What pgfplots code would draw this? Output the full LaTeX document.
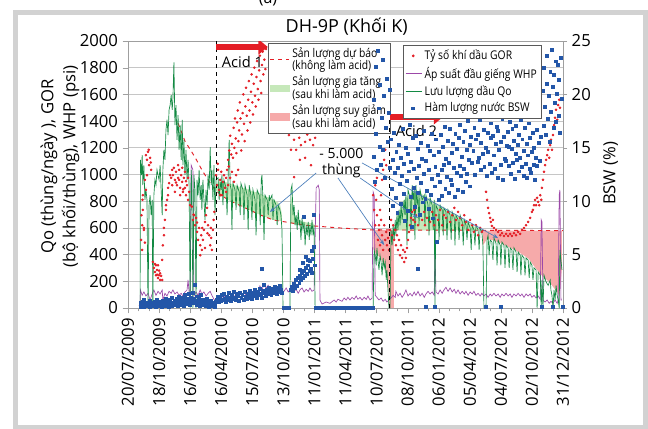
\documentclass[border=0pt]{standalone}
\usepackage{fontspec}
\setmainfont{Open Sans}
\newfontfamily\legfont[FakeStretch=0.86]{Open Sans}
\usepackage{pgfplots}
\pgfplotsset{compat=1.18}
\usetikzlibrary{arrows.meta}

\definecolor{gorred}{HTML}{E41E26}
\definecolor{qogreen}{HTML}{138A43}
\definecolor{whppurple}{HTML}{9C48A8}
\definecolor{bswblue}{HTML}{2356A8}
\definecolor{incgreen}{HTML}{C6E8BA}
\definecolor{decpink}{HTML}{F6AAAA}
\definecolor{annblue}{HTML}{4A7EBB}
\definecolor{framegray}{HTML}{D2D2D2}

\begin{document}
\begin{tikzpicture}
\useasboundingbox (-96pt,-90pt) rectangle (390pt,231pt);
\fill[white] (-96pt,-90pt) rectangle (390pt,231pt);
\draw[line width=3.75pt, framegray] (-84.4pt,-89.25pt) rectangle (388.1pt,221.6pt);
\node[font=\fontsize{12}{14}\selectfont] at (105pt,232pt) {(a)};
\node[font=\fontsize{13.5}{16}\selectfont] at (164pt,211pt) {DH-9P (Khối K)};

\begin{axis}[
  at={(0pt,0pt)}, anchor=south west,
  width=326.25pt, height=200.25pt, scale only axis,
  xmin=0, xmax=1260, ymin=0, ymax=2000,
  xtick={0,90,...,1260},
  xticklabels={20/07/2009,18/10/2009,16/01/2010,16/04/2010,15/07/2010,13/10/2010,11/01/2011,11/04/2011,10/07/2011,08/10/2011,06/01/2012,05/04/2012,04/07/2012,02/10/2012,31/12/2012},
  x tick label style={rotate=90, anchor=east},
  minor x tick num=2,
  ytick={0,200,...,2000},
  ymajorgrids, grid style={gray!45, line width=0.6pt},
  axis line style={gray!75}, tick style={gray!75},
  tick pos=left, tick align=outside,
  major tick length=4pt, minor tick length=2.5pt,
  ticklabel style={font=\fontsize{12.5}{14}\selectfont},
  /pgf/number format/assume math mode=true,
  /pgf/number format/1000 sep={},
  legend style={at={(0.322,0.993)}, anchor=north west, draw=gray!70!black, fill=white, line width=0.5pt,
    font=\legfont\fontsize{9}{9.6}\selectfont, inner sep=1pt, row sep=-1pt},
  legend cell align=left,
  legend style={cells={align=left}},
]
% increase / decrease areas
\addplot[fill=incgreen, draw=none, forget plot] coordinates {
(255,930)(265,950)(280,945)(300,930)(320,910)(340,895)(360,875)(380,860)(400,835)(420,815)(440,780)(446,700)
(446,650)(420,660)(385,695)(339,750)(290,810)(270,845)(255,880)} --cycle;
\addplot[fill=incgreen, draw=none, forget plot] coordinates {
(472,850)(478,720)(490,660)(510,645)(530,635)(540,630)(540,605)(510,620)(472,632)} --cycle;
\addplot[fill=incgreen, draw=none, forget plot] coordinates {
(774,585)(780,690)(790,760)(800,810)(815,850)(830,870)(845,860)(860,840)(880,805)(900,775)(920,745)(940,715)(960,685)(980,650)(1000,615)(1015,595)(1025,582)(774,582)} --cycle;
\addplot[fill=decpink, draw=none, forget plot] coordinates {
(711,585)(711,440)(720,400)(730,380)(740,330)(750,250)(755,120)(756,0)(770,0)(770,585)} --cycle;
\addplot[fill=decpink, draw=none, forget plot] coordinates {
(1028,580)(1028,470)(1031,480)(1040,520)(1060,505)(1080,485)(1100,460)(1120,435)(1140,405)(1160,370)(1180,300)(1200,240)(1220,195)(1240,130)(1250,90)(1257,300)(1257,580)} --cycle;

% WHP
\addplot[whppurple, line width=0.5pt, forget plot] coordinates {
(35,0)(36,135)(41,95)(46,120)(52,90)(58,110)(64,60)(70,105)(75,135)(81,95)(87,125)(93,105)(99,135)(101,60)(107,110)(113,90)(119,125)(125,110)(130,135)(136,105)(142,120)(148,95)(154,110)(159,90)(165,120)(171,135)(174,210)(177,120)(180,90)(183,1070)(188,1035)(191,90)(197,120)(203,95)(209,135)(214,105)(220,120)(226,90)(232,110)(238,125)(243,95)(249,65)(255,45)(261,75)(267,90)(272,65)(278,90)(284,75)(290,95)(296,80)(301,105)(307,80)(313,105)(319,90)(325,110)(330,90)(336,120)(342,95)(348,120)(353,105)(359,125)(365,105)(371,135)(377,110)(382,165)(388,135)(394,180)(400,150)(406,170)(411,135)(417,155)(423,125)(429,140)(435,120)(440,135)(446,105)(452,125)(458,150)(464,120)(469,135)(475,155)(481,125)(487,140)(493,110)(498,135)(504,150)(510,120)(516,140)(522,125)(527,150)(533,125)(539,135)(545,900)(551,920)(554,885)(556,60)(562,30)(574,45)(585,35)(597,60)(603,45)(608,65)(620,50)(626,75)(632,60)(637,80)(643,60)(649,80)(655,65)(661,90)(666,65)(672,80)(678,60)(684,80)(690,65)(695,90)(701,60)(707,75)(710,870)(713,845)(716,95)(721,80)(727,60)(733,75)(739,50)(745,65)(750,45)(756,60)(762,75)(768,95)(774,80)(776,125)(782,90)(788,110)(794,80)(800,105)(805,135)(811,90)(817,110)(823,90)(829,120)(834,95)(840,125)(846,90)(852,110)(858,80)(863,105)(869,125)(875,105)(881,120)(887,95)(889,450)(892,120)(898,105)(904,135)(910,110)(915,135)(921,155)(927,125)(933,150)(939,120)(945,140)(950,110)(956,135)(962,105)(968,125)(974,105)(979,125)(985,95)(991,120)(997,105)(1002,125)(1008,95)(1014,110)(1020,90)(1025,110)(1031,90)(1037,105)(1043,80)(1049,105)(1054,90)(1060,110)(1066,90)(1072,105)(1078,80)(1083,105)(1089,90)(1095,110)(1101,90)(1107,105)(1112,80)(1118,105)(1124,90)(1130,110)(1136,90)(1141,105)(1147,80)(1153,105)(1159,90)(1165,105)(1170,80)(1176,95)(1182,75)(1188,90)(1194,65)(1197,660)(1199,645)(1202,60)(1208,45)(1214,60)(1220,35)(1225,50)(1231,35)(1237,60)(1243,35)(1246,60)(1249,845)(1251,885)(1254,60)(1257,60)};

% forecast
\addplot[gorred, dashed, line width=0.7pt, forget plot] coordinates {
(145,1385)(165,1250)(194,1130)(215,1030)(232,960)(252,885)(270,845)(290,810)(339,750)(385,695)(420,660)(513,620)(611,600)(707,585)(1260,580)};

% Qo
\addplot[qogreen, line width=0.5pt, forget plot] coordinates {
(35,0)(36,1110)(39,995)(41,1145)(43,920)(46,1070)(49,810)(52,885)(55,810)(58,0)(61,770)(64,845)(67,695)(70,810)(72,0)(75,845)(78,960)(81,920)(84,1035)(87,995)(90,960)(93,1070)(96,885)(99,695)(101,1035)(104,1185)(107,1110)(110,1335)(113,1410)(116,1295)(119,1485)(122,1520)(125,1595)(128,1485)(130,1560)(133,1840)(136,1370)(139,1520)(142,1260)(145,1445)(148,1185)(151,1370)(154,1110)(157,1410)(159,1070)(162,1260)(165,995)(168,1185)(171,960)(174,1110)(177,920)(180,0)(183,1035)(185,920)(188,0)(191,995)(194,885)(197,0)(200,960)(203,845)(206,1035)(209,810)(212,920)(214,735)(217,960)(220,810)(223,660)(226,885)(229,770)(232,995)(235,885)(238,1205)(241,920)(243,1035)(246,810)(249,1070)(252,695)(255,960)
(261,975)(264,810)(267,945)(270,885)(272,995)(275,770)(278,960)(284,900)(287,695)(290,975)(293,1260)(296,920)(299,885)(301,585)(304,935)(310,885)(313,735)(316,920)(322,870)(325,695)(327,935)(333,885)(336,660)(339,920)(345,845)(348,585)(351,920)(356,845)(359,660)(362,885)(368,810)(371,545)(374,885)(380,845)(383,620)(386,960)(388,995)(391,810)(394,510)(397,845)(403,810)(406,695)(409,845)(411,810)(417,845)(420,660)(423,810)(429,770)(432,620)(435,770)(440,735)(443,695)(446,585)(449,0)(469,0)(472,885)(475,920)(478,695)(481,770)(484,620)(487,695)(490,585)(493,735)(496,620)(498,660)(501,510)(504,675)(507,585)(510,645)(513,470)(516,620)(519,545)(522,645)(525,510)(527,620)(530,545)(533,660)(536,545)(539,620)(542,0)(710,0)(713,435)(716,395)(719,320)(721,450)(724,360)(727,285)(730,395)(733,345)(736,245)(739,375)(742,300)(745,345)(748,210)(750,285)(753,135)(756,0)(759,0)(762,585)(765,470)(768,620)(771,510)(774,660)(776,545)(779,695)(782,585)(785,735)(788,620)(791,770)(794,660)(800,810)(802,695)(805,845)(808,470)(811,885)(817,825)(820,585)(823,920)(826,810)(829,885)(831,510)(834,920)(837,770)(840,845)(843,620)(846,885)(852,810)(858,845)(860,620)(863,845)(869,770)(872,545)(875,825)(881,770)(884,585)(887,810)(889,0)(892,770)(898,735)(901,510)(904,770)(910,735)(913,545)(915,750)(921,720)(924,510)(927,735)(933,695)(936,510)(939,720)(945,675)(947,470)(950,695)(956,660)(959,510)(962,695)(968,645)(971,470)(974,660)(979,620)(982,510)(985,645)(991,600)(994,435)(997,620)(1002,585)(1005,470)(1008,620)(1014,585)(1017,435)(1020,600)(1025,570)(1028,470)(1031,0)(1037,0)(1040,510)(1043,545)(1046,395)(1049,510)(1054,495)(1057,360)(1060,525)(1066,485)(1069,320)(1072,510)(1078,470)(1080,320)(1083,495)(1089,470)(1092,300)(1095,470)(1101,450)(1104,300)(1107,450)(1112,435)(1115,285)(1118,450)(1124,420)(1127,270)(1130,420)(1136,395)(1138,245)(1141,395)(1147,375)(1150,245)(1153,375)(1159,360)(1162,225)(1165,345)(1170,320)(1173,210)(1176,300)(1182,285)(1185,0)(1188,270)(1194,245)(1197,0)(1199,210)(1202,0)(1205,245)(1211,195)(1217,170)(1223,210)(1225,135)(1228,95)(1231,0)(1234,135)(1237,60)(1240,170)(1243,95)(1246,60)(1249,0)(1251,435)(1257,285)};

% GOR
\addplot[only marks, mark=*, mark size=0.75pt, gorred, forget plot] coordinates {
(35,20)(38,510)(39,695)(41,620)(42,810)(43,735)(43,845)(46,585)(41,435)(46,600)(49,490)
(52,1145)(55,1110)(58,1170)(61,1070)(64,1125)(67,1035)(55,995)(49,960)(52,885)(60,1185)(66,1090)
(72,345)(75,300)(78,270)(81,245)(84,285)(87,225)(90,245)(93,210)(96,240)(99,210)(87,320)(81,320)(78,330)(90,280)(84,250)(93,260)
(99,360)(101,470)(104,545)(104,600)(107,660)(110,735)(110,770)(113,810)(116,845)(116,900)(119,935)(122,995)
(125,975)(128,1035)(130,995)(133,1050)(136,960)(139,1020)(142,920)(145,975)(148,1035)(151,900)(154,995)(157,945)(159,870)(162,975)(165,900)(168,845)(171,920)(174,810)(177,870)(180,770)(128,920)(136,870)(145,1070)(157,1050)(165,1020)(174,975)(151,845)(139,940)(148,960)(160,890)(168,950)
(185,760)(190,700)(188,660)(191,695)(194,620)(197,675)(200,570)(203,510)(206,600)(209,470)(212,545)(214,435)(217,510)(220,585)(223,645)(226,695)(229,750)(232,620)(235,545)(238,470)(241,525)(243,435)(246,585)(209,395)(223,450)(200,640)(215,600)(230,560)(240,600)(248,660)(250,720)
(255,995)(258,920)(261,1035)(264,885)(267,960)(270,1020)(272,845)(275,945)(278,995)(281,900)(284,975)(287,1035)(290,920)(296,975)(301,1020)(307,945)(313,995)(319,1035)(267,845)(284,870)(260,1080)(292,1060)
(290,1110)(293,1180)(296,1290)(299,1150)(301,1230)(304,1125)(306,1350)(308,1200)(310,1420)(312,1270)(314,1160)(316,1390)(318,1480)(320,1250)(322,1330)(324,1540)(326,1420)(328,1180)(330,1300)(332,1460)(334,1600)(336,1380)(338,1250)(340,1510)(342,1650)(344,1440)(346,1330)(348,1560)(350,1700)(352,1480)(354,1390)(356,1620)(358,1750)(360,1540)(362,1450)(364,1680)(366,1800)(368,1590)(370,1510)(372,1730)(374,1850)(376,1640)(378,1560)(380,1780)(382,1890)(384,1700)(386,1610)(388,1820)(390,1920)(392,1750)(395,1860)(398,1790)(400,1940)
(466,1295)(469,1370)(472,1185)(475,1425)(478,1335)(481,1260)(484,1395)(487,1185)(490,1350)(493,1470)(496,1275)(498,1425)(501,1220)(504,1370)(507,1320)(510,1445)(513,1245)(516,1410)(519,1300)(522,1485)(525,1350)(527,1260)(530,1425)(533,1335)(536,1220)(539,1370)(542,1275)(481,980)(498,1110)(513,1125)(530,1070)
(710,845)(713,735)(716,620)(719,810)(721,695)(724,510)(727,585)(730,470)(733,660)(736,545)(739,435)(742,620)(745,510)(748,570)(750,470)(753,525)(756,435)(716,920)(721,975)
(727,620)(730,735)(733,845)(736,960)(739,1035)(742,1110)(745,1185)(748,1070)
(759,585)(762,660)(765,545)(768,620)(771,510)(774,585)(776,470)(779,545)(782,435)(785,510)(788,395)(791,470)(794,375)(797,435)(800,345)(802,420)(805,375)(808,450)(811,510)(814,570)(817,620)(820,675)(823,720)(826,660)(829,735)(831,645)(834,695)(840,620)(846,695)(852,660)(858,720)(860,620)(866,675)(875,645)(881,720)(887,620)(892,695)(898,660)(904,735)(910,620)(915,695)(921,675)(927,720)(933,645)(939,695)(945,750)(950,660)(956,720)(962,675)(968,620)(974,695)(979,645)(985,585)(991,660)(997,620)(1002,570)(1008,620)(1014,545)(1020,600)(1025,570)
(1037,870)(1040,810)(1043,750)(1046,710)(1049,675)(1051,645)(1054,615)(1057,660)(1060,600)(1066,585)(1072,570)(1078,545)(1083,560)(1089,540)(1095,555)(1101,540)(1107,555)(1112,540)(1118,560)(1124,545)(1130,570)(1136,555)(1141,585)(1147,600)(1153,620)(1159,645)(1165,675)(1170,720)(1173,735)(1176,770)(1179,810)(1182,770)(1185,825)(1188,795)(1191,770)(1194,845)(1197,810)(1199,900)(1202,960)(1205,1020)(1208,1070)(1211,1110)(1214,1145)(1217,1185)(1220,1125)(1223,1220)(1225,1260)(1228,1185)(1231,1295)(1234,1370)(1237,1425)(1240,1485)(1243,1410)(1246,1520)(1249,1560)(1251,1500)};

% acid 1 marker
\draw[black, dashed, line width=0.6pt] (axis cs:255,0) -- (axis cs:255,2000);
\draw[gorred, line width=4.5pt, -{Triangle[length=7pt,width=11pt]}] (axis cs:255,1955) -- (axis cs:405,1955);
\node[anchor=west, font=\fontsize{11}{13}\selectfont] at (axis cs:258,1840) {Acid 1};

\addlegendimage{legend image code/.code={\draw[gorred, dashed, line width=0.7pt] (0cm,0cm) -- (0.5cm,0cm);}}
\addlegendentry{Sản lượng dự báo\\(không làm acid)}
\addlegendimage{legend image code/.code={\fill[incgreen] (0cm,-0.08cm) rectangle (0.5cm,0.08cm);}}
\addlegendentry{Sản lượng gia tăng\\(sau khi làm acid)}
\addlegendimage{legend image code/.code={\fill[decpink] (0cm,-0.08cm) rectangle (0.5cm,0.08cm);}}
\addlegendentry{Sản lượng suy giảm\\(sau khi làm acid)}
\end{axis}

\begin{axis}[
  at={(0pt,0pt)}, anchor=south west,
  width=326.25pt, height=200.25pt, scale only axis,
  xmin=0, xmax=1260, ymin=0, ymax=25,
  axis x line=none, axis y line*=right,
  ytick={0,5,...,25},
  axis line style={gray!75}, tick style={gray!75},
  tick align=outside, major tick length=3pt,
  ticklabel style={font=\fontsize{12.5}{14}\selectfont},
  /pgf/number format/assume math mode=true,
  legend style={at={(0.632,0.985)}, anchor=north west, draw=gray!70!black, fill=white, line width=0.5pt,
    font=\legfont\fontsize{9}{10.5}\selectfont, inner sep=1.5pt, row sep=0pt},
  legend cell align=left,
]
\addlegendimage{legend image code/.code={\fill[gorred] (0.2cm,0cm) circle (0.75pt);}}
\addlegendentry{Tỷ số khí dầu GOR}
\addlegendimage{legend image code/.code={\draw[whppurple, line width=0.6pt] (0cm,0cm) -- (0.42cm,0cm);}}
\addlegendentry{Áp suất đầu giếng WHP}
\addlegendimage{legend image code/.code={\draw[qogreen, line width=0.6pt] (0cm,0cm) -- (0.42cm,0cm);}}
\addlegendentry{Lưu lượng dầu Qo}
\addplot[only marks, mark=square*, mark size=1.1pt, bswblue, legend image code/.code={\fill[bswblue] (0.16cm,-1.1pt) rectangle (0.16cm+2.2pt,1.1pt);}] coordinates {
(36,0.3)(38,0.5)(40,0.2)(42,0.6)(44,0.3)(47,0.8)(50,0.4)(53,0.2)(56,0.5)(59,0.3)(62,0.7)(65,0.4)(68,0.2)(71,0.5)(74,0.3)(77,0.6)(80,0.4)(83,0.8)(86,0.3)(89,0.5)(92,0.2)(95,0.6)(98,0.4)(101,0.7)(104,0.3)(107,0.5)(110,0.9)(113,0.4)(116,0.6)(119,0.3)(122,0.8)(125,0.5)(128,1.0)(131,0.4)(134,0.7)(137,0.5)(140,0.9)(143,0.6)(146,1.1)(149,0.4)(152,0.8)(155,0.6)(158,1.0)(161,0.5)(164,1.2)(167,0.7)(170,0.9)(173,0.5)(176,1.3)(179,0.8)(182,1.0)(185,0.6)(188,1.4)(191,0.9)(193,2.2)(196,0.7)(199,1.1)(202,0.5)(205,0.9)(208,0.6)(211,1.2)(214,0.4)(217,0.8)(220,0.3)(223,0.7)(226,0.5)(229,0.9)(232,0.3)(235,0.6)(238,0.4)(241,0.7)(244,0.2)(247,0.5)(250,0.3)(253,0.6)
(37,0.1)(45,0.1)(54,0.3)(63,0.1)(72,0.2)(81,0.1)(90,0.3)(99,0.1)(108,0.2)(117,0.1)(126,0.2)(135,0.3)(144,0.2)(153,0.3)(162,0.2)(171,0.4)(180,0.3)(189,0.5)(198,0.3)(207,0.2)(216,0.4)(225,0.2)(234,0.1)(243,0.3)(252,0.1)
(256,0.8)(259,1.1)(262,0.6)(265,1.0)(268,0.7)(271,1.2)(274,0.8)(277,1.3)(280,0.9)(283,0.6)(286,1.1)(289,0.8)(292,1.4)(295,1.0)(298,0.7)(301,1.2)(304,0.9)(307,1.5)(310,1.0)(313,0.8)(316,1.3)(319,1.1)(322,0.7)(325,1.4)(328,1.0)(331,1.2)(334,0.8)(337,1.5)(340,1.1)(343,0.9)(346,1.3)(349,1.0)(352,1.6)(355,1.2)(358,0.9)(361,1.4)(364,1.1)(367,1.7)(370,1.3)(373,1.0)(376,1.5)(379,1.2)(382,1.8)(385,1.3)(388,1.0)(388,3.7)(391,1.6)(394,2.2)(397,1.4)(400,1.1)(403,1.7)(406,1.3)(409,1.9)(412,1.5)(415,1.2)(418,1.8)(421,1.4)(424,2.0)(427,1.6)(430,1.3)(433,1.9)(436,1.5)(439,2.1)(442,1.7)(445,1.4)
(450,0.05)(454,0.05)(458,0.05)(462,0.05)(466,0.05)
(472,1.7)(475,2.0)(478,1.6)(481,2.3)(484,1.9)(487,2.6)(490,2.1)(493,2.8)(496,2.4)(498,3.0)(501,2.6)(504,3.3)(507,2.8)(510,8.5)(510,3.5)(513,3.0)(516,3.8)(519,3.2)(522,4.0)(525,3.5)(527,4.4)(530,3.7)(533,5.4)(536,4.6)(539,8.7)(539,5.7)(541,4.0)(533,3.3)(520,4.5)(515,4.8)(505,4.2)(498,3.6)
(545,0.05)(549,0.05)(553,0.05)(557,0.05)(561,0.05)(565,0.05)(569,0.05)(573,0.05)(577,0.05)(581,0.05)(585,0.05)(589,0.05)(593,0.05)(597,0.05)(601,0.05)(605,0.05)(609,0.05)(613,0.05)(617,0.05)(621,0.05)(625,0.05)(629,0.05)(633,0.05)(637,0.05)(641,0.05)(645,0.05)(649,0.05)(653,0.05)(657,0.05)(661,0.05)(665,0.05)(669,0.05)(673,0.05)(677,0.05)(681,0.05)(685,0.05)(689,0.05)(693,0.05)(697,0.05)(701,0.05)(705,0.05)(709,0.05)
(711,14.2)(713,19.5)(715,11.8)(717,22.6)(719,16.3)(721,12.9)(723,24.1)(726,18.7)(728,15.1)(730,20.9)(732,13.4)(735,17.8)(737,23.2)(739,14.8)(742,19.9)(744,12.2)(747,16.9)(749,21.5)(752,15.6)(754,18.3)(757,13.1)(759,20.4)
(762,15.8)(764,11.2)(766,13.9)(768,9.6)(771,16.4)(773,12.7)(775,10.3)(777,14.6)(780,8.9)(782,13.1)(784,15.3)(786,11.6)(789,9.8)(791,14.1)(793,12.4)(795,16.8)(798,10.7)(800,13.5)(802,8.2)(804,15.0)(807,11.9)(809,14.4)(811,9.1)(813,12.8)(816,17.2)(818,10.4)(820,13.7)(822,7.6)(825,15.9)(827,11.3)(829,13.0)(831,9.5)(834,16.1)(836,12.2)(838,14.9)(840,10.8)(840,3.7)(843,13.3)(845,8.7)(847,15.5)(849,11.7)(852,14.0)(854,9.9)(856,12.6)(858,16.6)(861,10.2)(862,0.1)(863,13.8)(865,11.0)(867,15.2)(870,9.3)(872,12.9)(874,14.7)(876,10.6)(879,16.3)(881,12.1)(883,8.4)(885,14.3)(888,11.4)(889,0.1)(890,13.2)(892,15.8)(894,6.2)(897,12.5)(899,10.1)
(901,14.6)(903,11.8)(906,16.2)(908,12.9)(910,10.5)(912,15.1)(915,13.4)(917,17.0)(919,11.2)(921,14.0)(924,12.3)(926,15.7)(928,10.8)(930,13.6)(933,16.8)(935,12.0)(937,14.5)(939,11.5)(942,15.4)(944,13.1)(946,10.4)(948,16.3)(951,12.7)(953,14.9)(955,11.1)(957,15.9)(960,13.3)(962,17.2)(964,12.4)(966,14.2)(969,10.9)(971,15.6)(973,13.0)(975,16.6)(978,11.8)(980,14.8)(982,12.6)(984,17.5)(987,13.9)(989,15.3)(991,11.4)(993,16.0)(996,13.6)(998,18.0)
(1000,14.7)(1003,16.9)(1005,12.5)(1007,15.8)(1009,18.4)(1012,13.7)(1014,16.2)(1016,14.1)(1018,17.6)(1021,12.9)(1023,15.5)(1025,18.9)(1027,14.4)(1030,16.7)(1032,13.2)(1034,17.9)(1036,15.0)(1037,0.1)(1039,12.4)(1041,16.4)(1043,14.6)(1045,18.6)(1048,13.5)(1050,15.9)(1052,17.3)(1054,12.7)(1057,16.1)(1059,14.3)(1061,18.1)(1063,13.0)(1066,15.4)(1068,17.0)(1070,12.2)(1072,16.6)(1075,14.8)(1077,18.3)(1079,13.4)(1080,0.1)(1081,15.6)(1084,17.7)(1086,12.0)(1088,16.0)(1090,14.0)(1093,18.7)(1095,13.8)(1097,15.2)
(1100,16.5)(1102,13.3)(1104,15.1)(1106,17.4)(1109,12.6)(1111,14.9)(1113,16.8)(1115,13.6)(1118,15.7)(1120,12.1)(1122,14.4)(1124,17.1)(1127,13.9)(1129,15.3)(1131,12.8)(1133,16.2)(1136,14.1)(1138,17.6)(1140,13.2)(1142,15.8)(1145,12.4)(1147,14.7)(1149,16.9)(1151,13.5)(1154,15.4)(1156,12.2)(1158,14.3)(1160,17.3)(1163,13.0)(1165,15.9)(1167,12.7)(1169,14.6)(1172,16.4)(1174,13.4)(1176,15.0)(1178,12.0)(1181,14.1)(1183,16.7)(1185,13.3)(1187,18.2)(1190,15.5)(1192,13.8)(1194,19.5)(1196,16.0)(1199,0.1)
(1201,20.3)(1203,17.1)(1205,22.5)(1207,18.8)(1210,16.2)(1212,21.0)(1214,23.6)(1216,17.7)(1218,19.9)(1221,15.6)(1223,22.1)(1225,18.4)(1227,24.2)(1229,20.7)(1231,0.1)(1232,16.9)(1234,21.8)(1236,19.2)(1238,23.1)(1240,17.4)(1243,20.1)(1245,22.8)(1247,18.0)(1249,21.4)(1251,16.4)(1254,23.4)(1256,19.6)(1258,0.1)};
\addlegendentry{Hàm lượng nước BSW}

% acid 2 marker and annotation (on top of the BSW points)
\draw[black, dashed, line width=0.6pt] (axis cs:758,0) -- (axis cs:758,17.9);
\draw[gorred, line width=4.5pt, -{Triangle[length=7pt,width=11pt]}] (axis cs:760,17.9) -- (axis cs:913,17.9);
\node[anchor=west, font=\fontsize{11}{13}\selectfont] at (axis cs:762,16.6) {Acid 2};
\node[align=center, font=\fontsize{10.5}{12}\selectfont] at (axis cs:618,13.56) {- 5.000\\thùng};
\draw[annblue, line width=0.5pt, -{Stealth[length=4pt]}] (axis cs:545,12.64) -- (axis cs:411,8.99);
\draw[annblue, line width=0.5pt, -{Stealth[length=4pt]}] (axis cs:608,12.18) -- (axis cs:742,5.9);
\draw[annblue, line width=0.5pt, -{Stealth[length=4pt]}] (axis cs:672,12.18) -- (axis cs:840,8.43);
\draw[annblue, line width=0.5pt, -{Stealth[length=4pt]}] (axis cs:678,13.58) -- (axis cs:1072,6.55);
\end{axis}

\node[rotate=90, align=center, font=\fontsize{12.5}{16.5}\selectfont] at (-51pt,106pt) {Qo (thùng/ngày ), GOR\\(bộ khối/thùng), WHP (psi)};
\node[rotate=90, font=\fontsize{12.5}{14}\selectfont] at (362pt,101pt) {BSW (\%)};
\end{tikzpicture}
\end{document}
